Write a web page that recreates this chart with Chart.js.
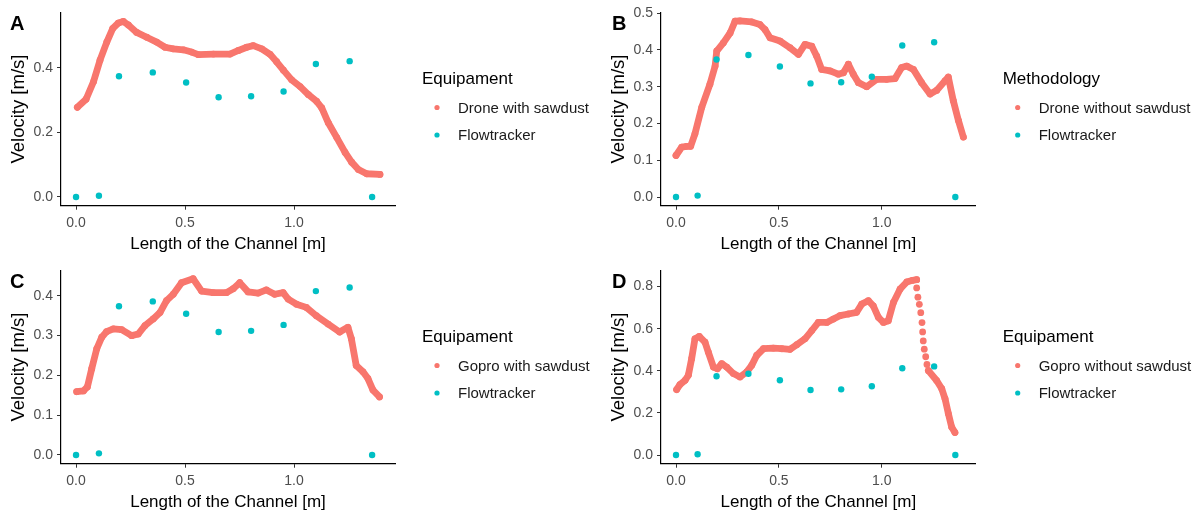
<!DOCTYPE html>
<html lang="en">
<head>
<meta charset="UTF-8">
<title>Velocity along the channel</title>
<script src="https://cdn.jsdelivr.net/npm/chart.js"></script>
<style>
    body { margin: 0; background: #fff; }
    #panels { position: relative; width: 1200px; height: 516px; }
    #panels canvas { position: absolute; }
</style>
</head>
<body>
<div id="panels">
    <canvas id="panelA" width="600" height="258" style="left:0;top:0"></canvas>
    <canvas id="panelB" width="600" height="258" style="left:600px;top:0"></canvas>
    <canvas id="panelC" width="600" height="258" style="left:0;top:258px"></canvas>
    <canvas id="panelD" width="600" height="258" style="left:600px;top:258px"></canvas>
</div>

<script>
// Flowtracker readings, same in every panel
const flowX = [0, 0.105, 0.197, 0.352, 0.505, 0.654, 0.803, 0.952, 1.10, 1.255, 1.358];
const flowV = [0, 0.004, 0.374, 0.386, 0.355, 0.309, 0.312, 0.327, 0.412, 0.421, 0];

// A - drone with sawdust
const droneSawX = [0.006, 0.046, 0.08, 0.11, 0.141, 0.168, 0.194, 0.217, 0.24, 0.278, 0.324, 0.37, 0.408, 0.446,
    0.492, 0.53, 0.561, 0.63, 0.706, 0.745, 0.783, 0.813, 0.852, 0.89, 0.92, 0.951, 0.989, 1.028, 1.066,
    1.104, 1.127, 1.157, 1.196, 1.234, 1.264, 1.295, 1.333, 1.394];
const droneSawV = [0.278, 0.303, 0.357, 0.424, 0.48, 0.522, 0.539, 0.544, 0.533, 0.51, 0.495, 0.48, 0.464, 0.459,
    0.456, 0.449, 0.441, 0.443, 0.443, 0.454, 0.464, 0.469, 0.459, 0.442, 0.419, 0.393, 0.363, 0.342, 0.317,
    0.296, 0.276, 0.23, 0.184, 0.138, 0.108, 0.085, 0.072, 0.070];

// B - drone without sawdust
const droneNoX = [0, 0.028, 0.052, 0.071, 0.092, 0.125, 0.165, 0.19, 0.198, 0.23, 0.263, 0.287, 0.311, 0.368,
    0.408, 0.433, 0.457, 0.506, 0.554, 0.595, 0.627, 0.66, 0.684, 0.708, 0.749, 0.789, 0.814, 0.838, 0.862,
    0.887, 0.927, 0.976, 1.024, 1.065, 1.097, 1.122, 1.154, 1.194, 1.235, 1.267, 1.308, 1.324, 1.348, 1.373, 1.397];
const droneNoV = [0.113, 0.136, 0.138, 0.138, 0.172, 0.244, 0.307, 0.356, 0.397, 0.419, 0.446, 0.478, 0.479, 0.476,
    0.469, 0.455, 0.433, 0.424, 0.406, 0.388, 0.415, 0.41, 0.383, 0.347, 0.343, 0.334, 0.338, 0.361, 0.334,
    0.311, 0.300, 0.32, 0.32, 0.322, 0.352, 0.356, 0.347, 0.311, 0.28, 0.29, 0.316, 0.326, 0.262, 0.208, 0.163];

// C - gopro with sawdust
const goproSawX = [0.003, 0.034, 0.052, 0.072, 0.095, 0.118, 0.14, 0.171, 0.209, 0.255, 0.285, 0.316, 0.354, 0.385,
    0.415, 0.446, 0.484, 0.537, 0.576, 0.629, 0.69, 0.721, 0.751, 0.789, 0.835, 0.873, 0.911, 0.95, 0.973,
    1.011, 1.056, 1.102, 1.156, 1.209, 1.247, 1.263, 1.285, 1.316, 1.339, 1.362, 1.392];
const goproSawV = [0.159, 0.161, 0.171, 0.217, 0.267, 0.296, 0.31, 0.317, 0.315, 0.30, 0.304, 0.325, 0.342, 0.358,
    0.388, 0.404, 0.433, 0.443, 0.412, 0.408, 0.408, 0.418, 0.433, 0.41, 0.407, 0.415, 0.404, 0.408, 0.392,
    0.379, 0.371, 0.35, 0.329, 0.309, 0.321, 0.292, 0.225, 0.209, 0.192, 0.163, 0.146];

// D - gopro without sawdust
const goproNoX = [0.003, 0.019, 0.044, 0.06, 0.076, 0.092, 0.113, 0.141, 0.157, 0.182, 0.201, 0.222, 0.246, 0.279,
    0.311, 0.344, 0.368, 0.392, 0.425, 0.473, 0.514, 0.554, 0.587, 0.627, 0.66, 0.692, 0.733, 0.765, 0.797,
    0.838, 0.878, 0.903, 0.935, 0.959, 0.984, 1.008, 1.032, 1.057, 1.089, 1.122, 1.15, 1.170, 1.170, 1.176,
    1.183, 1.190, 1.196, 1.199, 1.202, 1.207, 1.214, 1.22, 1.227, 1.267, 1.292, 1.308, 1.324, 1.340, 1.356];
const goproNoV = [0.311, 0.335, 0.355, 0.379, 0.458, 0.552, 0.563, 0.536, 0.489, 0.418, 0.41, 0.434, 0.418, 0.387,
    0.371, 0.395, 0.426, 0.473, 0.505, 0.508, 0.505, 0.502, 0.524, 0.552, 0.591, 0.63, 0.63, 0.646, 0.662,
    0.67, 0.678, 0.717, 0.733, 0.709, 0.654, 0.63, 0.638, 0.725, 0.788, 0.822, 0.83, 0.833, 0.794, 0.75,
    0.716, 0.676, 0.629, 0.585, 0.542, 0.503, 0.467, 0.43, 0.401, 0.354, 0.315, 0.267, 0.197, 0.133, 0.107];

const xTicks = [0, 0.5, 1.0];
const yTicksA = [0, 0.2, 0.4];
const yTicksB = [0, 0.1, 0.2, 0.3, 0.4, 0.5];
const yTicksC = [0, 0.1, 0.2, 0.3, 0.4];
const yTicksD = [0, 0.2, 0.4, 0.6, 0.8];

const panelLetters = ['A', 'B', 'C', 'D'];
const legendTitles = ['Equipament', 'Methodology', 'Equipament', 'Equipament'];
const seriesNames = ['Drone with sawdust', 'Drone without sawdust', 'Gopro with sawdust', 'Gopro without sawdust'];
const flowName = 'Flowtracker';

const RED = '#F8766D';
const TEAL = '#00BFC4';
const FONT = 'Arial, "Liberation Sans", sans-serif';

function toPoints(xs, ys) {
    return xs.map((x, i) => ({ x: x, y: ys[i] }));
}

// panel letter + ggplot style legend on the right
const ggLegend = {
    id: 'ggLegend',
    afterDraw(chart, args, opts) {
        const ctx = chart.ctx;
        const right = chart.chartArea.right;
        ctx.save();
        ctx.fillStyle = '#000';
        ctx.font = 'bold 20px ' + FONT;
        ctx.textBaseline = 'alphabetic';
        ctx.fillText(opts.letter, opts.letterX, 30);

        ctx.font = '17px ' + FONT;
        ctx.fillText(opts.title, right + 27, 83.5);

        const items = [[opts.names[0], RED, 107.5], [opts.names[1], TEAL, 135]];
        ctx.font = '15px ' + FONT;
        ctx.textBaseline = 'middle';
        items.forEach(([name, color, y]) => {
            ctx.fillStyle = color;
            ctx.beginPath();
            ctx.arc(right + 42, y, 2.6, 0, Math.PI * 2);
            ctx.fill();
            ctx.fillStyle = '#1a1a1a';
            ctx.fillText(name, right + 63, y + 1);
        });
        ctx.restore();
    }
};

function makePanel(id, idx, redX, redV, yTicks, xMin, xMax, yMin, yMax, rightPad) {
    new Chart(document.getElementById(id), {
        type: 'scatter',
        data: {
            datasets: [{
                label: flowName,
                data: toPoints(flowX, flowV),
                backgroundColor: TEAL,
                borderColor: TEAL,
                pointRadius: 3.2,
                borderWidth: 0,
                order: 0
            }, {
                label: seriesNames[idx],
                data: toPoints(redX, redV),
                backgroundColor: RED,
                borderColor: RED,
                pointRadius: 3.4,
                pointBorderWidth: 0,
                showLine: true,
                borderWidth: 6.8,
                borderCapStyle: 'round',
                borderJoinStyle: 'round',
                segment: {
                    // the steep fall in D is drawn as separate dots
                    borderColor: c => (Math.abs(c.p1.x - c.p0.x) < 2 && c.p1.y - c.p0.y > 6) ? 'rgba(0,0,0,0)' : RED
                },
                order: 1
            }]
        },
        options: {
            responsive: false,
            animation: false,
            events: [],
            layout: { padding: { left: 0, top: 11, right: rightPad, bottom: 0 } },
            plugins: {
                legend: { display: false },
                tooltip: { enabled: false },
                ggLegend: {
                    letter: panelLetters[idx],
                    letterX: idx % 2 === 0 ? 10 : 12,
                    title: legendTitles[idx],
                    names: [seriesNames[idx], flowName]
                }
            },
            scales: {
                x: {
                    type: 'linear',
                    min: xMin,
                    max: xMax,
                    afterFit: s => { s.height = 52.3; },
                    afterBuildTicks: s => { s.ticks = xTicks.map(v => ({ value: v })); },
                    grid: { drawOnChartArea: false, drawTicks: true, tickLength: 4, color: '#333', lineWidth: 1 },
                    border: { display: true, color: '#000', width: 1.2 },
                    ticks: {
                        color: '#4D4D4D',
                        font: { family: FONT, size: 14 },
                        padding: 5,
                        maxRotation: 0,
                        callback: v => v.toFixed(1)
                    },
                    title: {
                        display: true,
                        text: 'Length of the Channel [m]',
                        color: '#000',
                        font: { family: FONT, size: 17 },
                        padding: { top: 0, bottom: 3 }
                    }
                },
                y: {
                    type: 'linear',
                    min: yMin,
                    max: yMax,
                    afterFit: s => { s.width = 61; },
                    afterBuildTicks: s => { s.ticks = yTicks.map(v => ({ value: v })); },
                    grid: { drawOnChartArea: false, drawTicks: true, tickLength: 4, color: '#333', lineWidth: 1 },
                    border: { display: true, color: '#000', width: 1.2 },
                    ticks: {
                        color: '#4D4D4D',
                        font: { family: FONT, size: 14 },
                        padding: 4,
                        callback: v => v.toFixed(1)
                    },
                    title: {
                        display: true,
                        text: 'Velocity [m/s]',
                        color: '#000',
                        font: { family: FONT, size: 18.5 },
                        padding: { top: 8, bottom: 0 }
                    }
                }
            }
        },
        plugins: [ggLegend]
    });
}

makePanel('panelA', 0, droneSawX, droneSawV, yTicksA, -0.069, 1.463, -0.027, 0.572, 205);
makePanel('panelB', 1, droneNoX, droneNoV, yTicksB, -0.073, 1.457, -0.0235, 0.502, 224.3);
makePanel('panelC', 2, goproSawX, goproSawV, yTicksC, -0.069, 1.463, -0.022, 0.464, 205);
makePanel('panelD', 3, goproNoX, goproNoV, yTicksD, -0.073, 1.457, -0.041, 0.877, 224.3);
</script>
</body>
</html>
